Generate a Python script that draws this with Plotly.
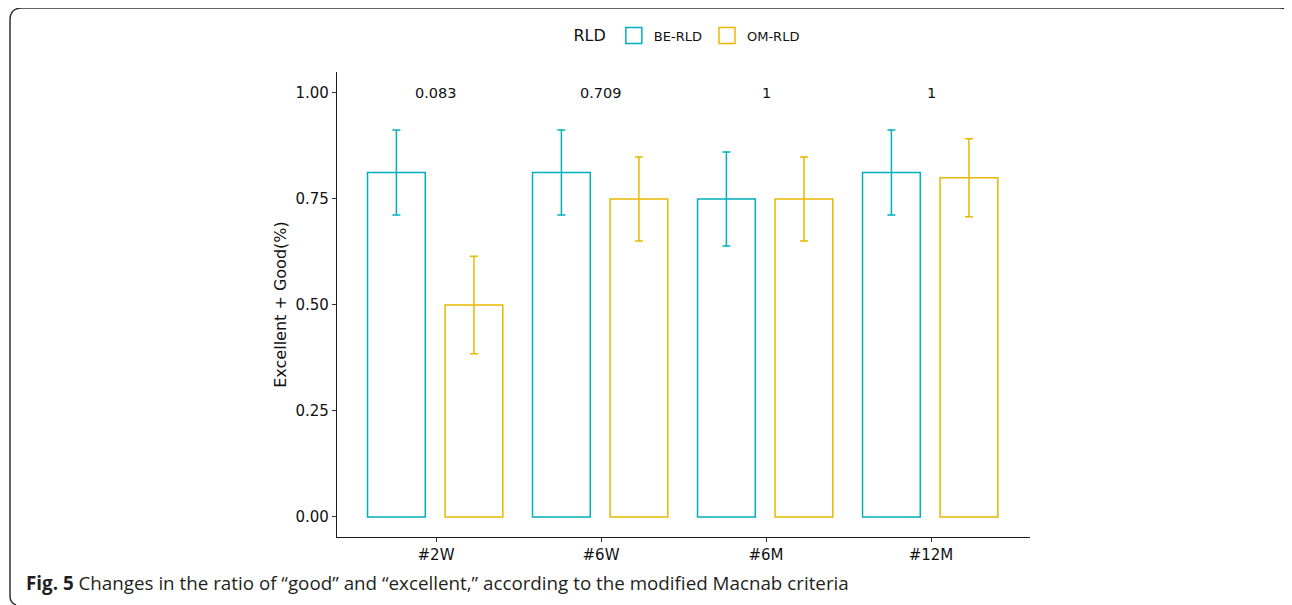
import plotly.graph_objects as go

# ---- data ----
categories = ["#2W", "#6W", "#6M", "#12M"]
be_values = [0.8125, 0.8125, 0.75, 0.8125]
be_err = [0.10, 0.10, 0.111, 0.10]
om_values = [0.50, 0.75, 0.75, 0.80]
om_err = [0.115, 0.099, 0.099, 0.092]
p_values = ["0.083", "0.709", "1", "1"]
y_ticks = [0, 0.25, 0.5, 0.75, 1.0]

BE_COLOR = "#00AFBB"
OM_COLOR = "#E7B800"

OFF = 8  # browser body margin
W, H = 1292 - OFF, 605 - OFF
L, T = 337 - OFF, 72 - OFF
R = W - (1030 - OFF)
B = H - (537 - OFF)
PW, PH = W - L - R, H - T - B


def px(x):
    """page pixel x -> paper"""
    return (x - OFF - L) / PW


def py(y):
    """page pixel y -> paper"""
    return (H - B - (y - OFF)) / PH


fig = go.Figure()
fig.add_trace(go.Bar(
    name="BE-RLD", x=categories, y=be_values, legendgroup="be", showlegend=False,
    width=0.35, offset=-0.415,
    marker=dict(color="rgba(0,0,0,0)", line=dict(color=BE_COLOR, width=1.5)),
    error_y=dict(type="data", array=be_err, color=BE_COLOR, thickness=1.5, width=4),
))
fig.add_trace(go.Bar(
    name="OM-RLD", x=categories, y=om_values, legendgroup="om", showlegend=False,
    width=0.35, offset=0.055,
    marker=dict(color="rgba(0,0,0,0)", line=dict(color=OM_COLOR, width=1.5)),
    error_y=dict(type="data", array=om_err, color=OM_COLOR, thickness=1.5, width=4),
))
# legend keys
for name, col, grp in [("BE-RLD", BE_COLOR, "be"), ("OM-RLD", OM_COLOR, "om")]:
    fig.add_trace(go.Scatter(
        name=name, x=[None], y=[None], mode="markers", legendgroup=grp,
        marker=dict(symbol="square-open", size=16, color=col, line=dict(color=col, width=1.5)),
    ))

for c, p in zip(categories, p_values):
    fig.add_annotation(x=c, y=1.0, xref="x", yref="y", text=p, showarrow=False,
                       font=dict(size=14.5, color="#111111", family="DejaVu Sans"),
                       yanchor="middle")

# caption
fig.add_annotation(
    x=px(24), y=py(583), xref="paper", yref="paper", xanchor="left", yanchor="middle",
    showarrow=False,
    text="<b>Fig. 5</b> Changes in the ratio of \u201cgood\u201d and \u201cexcellent,\u201d according to the modified Macnab criteria",
    font=dict(size=18.8, color="#231f20", family="Open Sans"),
)

# frame border
pts = f"M {px(16)},{py(605)} Q {px(10)},{py(603)} {px(10)},{py(596)} L {px(10)},{py(20)} " \
      f"Q {px(10)},{py(8)} {px(22)},{py(8)} L {px(1280)},{py(8)} Q {px(1289)},{py(8)} {px(1291)},{py(14)}"
fig.add_shape(type="path", path=pts, xref="paper", yref="paper",
              line=dict(color="#333333", width=1.5))

fig.update_layout(
    width=W, height=H,
    margin=dict(l=L, r=R, t=T, b=B),
    plot_bgcolor="white", paper_bgcolor="white",
    barmode="overlay",
    font=dict(family="DejaVu Sans", color="#111111"),
    showlegend=True,
    legend=dict(
        orientation="h", x=px(688), y=py(36), xanchor="center", yanchor="middle",
        title=dict(text="RLD", font=dict(size=16, color="#111111")),
        font=dict(size=13, color="#111111"),
        bgcolor="rgba(0,0,0,0)",
    ),
    xaxis=dict(
        range=[-0.6, 3.6], showline=True, linecolor="#1a1a1a", linewidth=1.2,
        ticks="outside", ticklen=4, tickcolor="#333333", showgrid=False,
        tickfont=dict(size=15, color="#111111"), zeroline=False,
    ),
    yaxis=dict(
        range=[-0.0472, 1.0495], tickvals=y_ticks, tickformat=".2f",
        showline=True, linecolor="#1a1a1a", linewidth=1.2,
        ticks="outside", ticklen=4, tickcolor="#333333", showgrid=False,
        tickfont=dict(size=15, color="#111111"), zeroline=False,
        title=dict(text="Excellent + Good(%)", font=dict(size=16, color="#111111"), standoff=4),
    ),
)

fig.write_html("out.html")
